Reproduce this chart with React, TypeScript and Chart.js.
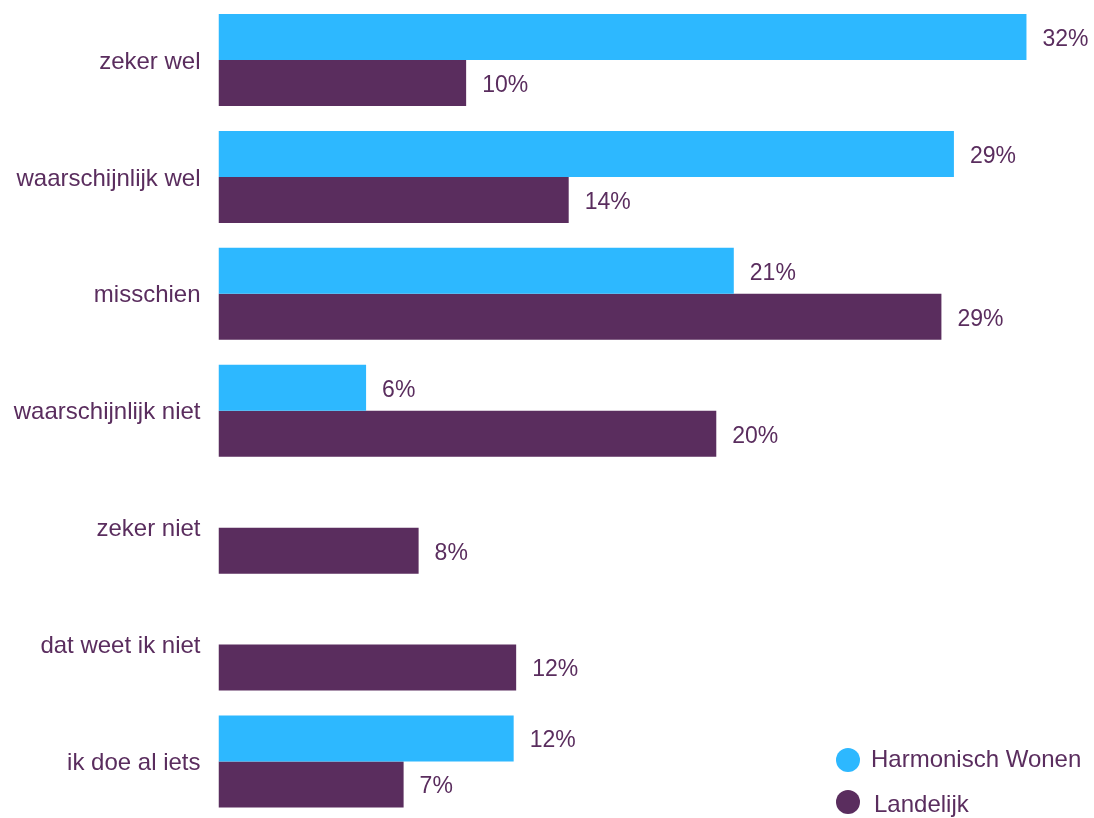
import React, { useEffect, useRef } from "react";
import { Chart, registerables } from "chart.js";

Chart.register(...registerables);

const categories = [
  "zeker wel",
  "waarschijnlijk wel",
  "misschien",
  "waarschijnlijk niet",
  "zeker niet",
  "dat weet ik niet",
  "ik doe al iets",
];
const seriesNames = ["Harmonisch Wonen", "Landelijk"];
const harmonischWonen: (number | null)[] = [32.3, 29.4, 20.6, 5.9, null, null, 11.8];
const landelijk: (number | null)[] = [9.9, 14.0, 28.9, 19.9, 8.0, 11.9, 7.4];
const xMax = 35;

const BLUE = "#2DB8FF";
const PURPLE = "#5A2D5E";
const TEXT = "#5A2D5E";
const FONT_FAMILY = "'Liberation Sans', Arial, sans-serif";

const valueLabels = {
  id: "valueLabels",
  afterDatasetsDraw(chart: any) {
    const ctx = chart.ctx;
    ctx.save();
    ctx.font = `23px ${FONT_FAMILY}`;
    ctx.fillStyle = TEXT;
    ctx.textAlign = "left";
    ctx.textBaseline = "middle";
    chart.data.datasets.forEach((ds: any, i: number) => {
      const meta = chart.getDatasetMeta(i);
      meta.data.forEach((bar: any, j: number) => {
        const v = ds.data[j];
        if (v == null) return;
        ctx.fillText(Math.round(v) + "%", bar.x + 16, bar.y + 2.5);
      });
    });
    ctx.restore();
  },
};

const legendRows = [
  { cx: 848, cy: 760, tx: 871, ty: 760 },
  { cx: 848, cy: 802, tx: 874, ty: 805 },
];

const circleLegend = {
  id: "circleLegend",
  afterDraw(chart: any) {
    const ctx = chart.ctx;
    ctx.save();
    ctx.font = `24px ${FONT_FAMILY}`;
    ctx.textAlign = "left";
    ctx.textBaseline = "middle";
    chart.data.datasets.forEach((ds: any, i: number) => {
      const r = legendRows[i];
      ctx.beginPath();
      ctx.arc(r.cx, r.cy, 12, 0, Math.PI * 2);
      ctx.fillStyle = ds.backgroundColor;
      ctx.fill();
      ctx.fillStyle = TEXT;
      ctx.fillText(ds.label, r.tx, r.ty);
    });
    ctx.restore();
  },
};

export default function App() {
  const ref = useRef<HTMLCanvasElement | null>(null);

  useEffect(() => {
    if (!ref.current) return;
    const chart = new Chart(ref.current, {
      type: "bar",
      data: {
        labels: categories,
        datasets: [
          {
            label: seriesNames[0],
            data: harmonischWonen,
            backgroundColor: BLUE,
            borderWidth: 0,
            categoryPercentage: 0.787,
            barPercentage: 1,
          },
          {
            label: seriesNames[1],
            data: landelijk,
            backgroundColor: PURPLE,
            borderWidth: 0,
            categoryPercentage: 0.787,
            barPercentage: 1,
          },
        ],
      },
      options: {
        indexAxis: "y",
        responsive: false,
        animation: false,
        layout: { padding: { top: 1.5, left: 0, right: 0, bottom: 0 } },
        plugins: {
          legend: { display: false },
          tooltip: { enabled: false },
          title: { display: false },
        },
        scales: {
          x: {
            display: false,
            min: 0,
            max: xMax,
          },
          y: {
            grid: { display: false, drawTicks: false },
            border: { display: false },
            ticks: {
              color: TEXT,
              padding: 18,
              labelOffset: 2,
              font: { size: 24, family: FONT_FAMILY },
            },
            afterFit(scale: any) {
              scale.width = 218.5;
              scale.paddingTop = 0;
              scale.paddingBottom = 0;
            },
          },
        },
      } as any,
      plugins: [valueLabels, circleLegend],
    });
    return () => chart.destroy();
  }, []);

  return (
    <div style={{ position: "absolute", left: 0, top: 0, width: 1094, height: 820, background: "#fff" }}>
      <canvas ref={ref} width={1094} height={820} />
    </div>
  );
}
